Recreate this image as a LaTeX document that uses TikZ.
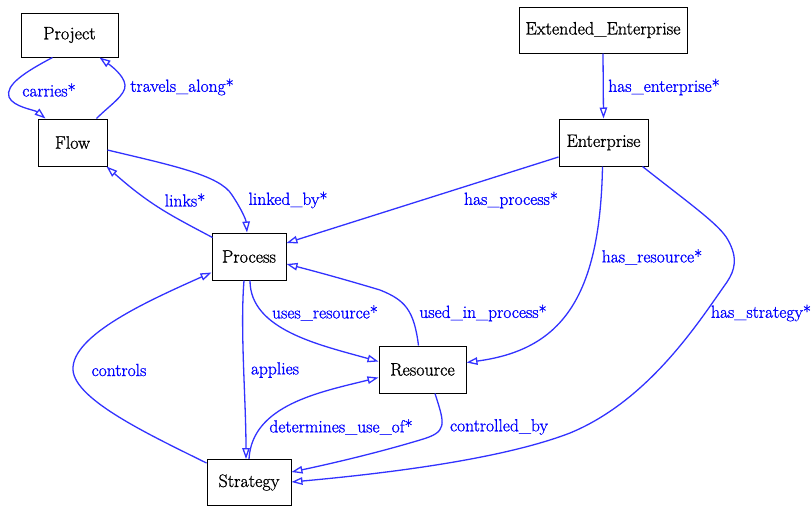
\documentclass[tikz,border=0pt]{standalone}
\usepackage{fontspec}
\setmainfont{Latin Modern Roman}[FakeBold=1]
\usetikzlibrary{arrows.meta,calc}
\definecolor{edgeblue}{RGB}{50,50,255}
\begin{document}
\begin{tikzpicture}[x=1pt,y=-1pt,
  box/.style={draw=black,line width=1pt,inner sep=0pt,font=\rmfamily\fontsize{18}{21}\selectfont},
  edge/.style={draw=edgeblue,line width=1.3pt,-{Triangle[open,length=11pt,width=7.5pt]}},
  lbl/.style={text=blue,inner sep=0pt,font=\rmfamily\fontsize{17.5}{20}\selectfont}]
\useasboundingbox (0,0) rectangle (811,507);
% nodes
\node[box,minimum width=97pt,minimum height=44pt] (proj) at (69.5,35) {Project};
\node[box,minimum width=69pt,minimum height=47pt] (flow) at (72.5,142.5) {Flow};
\node[box,minimum width=168pt,minimum height=46pt] (ext) at (603,30) {Extended\_Enterprise};
\node[box,minimum width=89pt,minimum height=47pt] (ent) at (603.5,142.5) {Enterprise};
\node[box,minimum width=74pt,minimum height=47pt] (proc) at (249,256.5) {Process};
\node[box,minimum width=87pt,minimum height=47pt] (res) at (422.5,369.5) {Resource};
\node[box,minimum width=84pt,minimum height=46pt] (strat) at (249,482.5) {Strategy};
% edges
\draw[edge] ($(proj.south)+(-17,0)$) .. controls (25,72) and (5,85) .. (9,97)
  .. controls (13,107) and (35,110) .. ($(flow.north)+(-27,0)$);
\draw[edge] ($(flow.north)+(24,0)$) .. controls (110,105) and (126,95) .. (125,85)
  .. controls (124,75) and (110,65) .. ($(proj.south)+(30,0)$);
\draw[edge] ($(proc.north west)+(1,5)$) .. controls (170,215) and (150,205) .. ($(flow.south east)+(-1,0)$);
\draw[edge] ($(flow.east)+(0,7.5)$) .. controls (170,165) and (220,175) .. (232,195)
  .. controls (242,210) and (246,220) .. ($(proc.north)+(-2,0)$);
\draw[edge] ($(ent.west)+(0,14.5)$) -- ($(proc.east)+(0,-13.5)$);
\draw[edge] (ext.south) -- (ent.north);
\draw[edge] ($(ent.south)+(-1,0)$) .. controls (600,300) and (560,350) .. ($(res.east)+(0,-7)$);
\draw[edge] ($(ent.south east)+(-6,0)$) .. controls (690,204) and (720,225) .. (728,240)
  .. controls (738,258) and (735,270) .. (727,282)
  .. controls (700,320) and (650,400) .. (570,433)
  .. controls (500,460) and (380,474) .. ($(strat.east)+(0,-0.5)$);
\draw[edge] ($(proc.south)+(1,0)$) .. controls (250,330) and (320,345) .. ($(res.west)+(0,-8)$);
\draw[edge] ($(res.north)+(-4,0)$) .. controls (414,310) and (405,300) .. (380,290)
  .. controls (340,278) and (310,270) .. ($(proc.east)+(0,7.5)$);
\draw[edge] ($(proc.south)+(-5,0)$) .. controls (240,330) and (246,400) .. ($(strat.north)+(-3,0)$);
\draw[edge] ($(strat.north west)+(0,4)$) .. controls (150,435) and (75,400) .. (73,370)
  .. controls (71,335) and (150,300) .. ($(proc.south west)+(0,-8)$);
\draw[edge] (strat.north) .. controls (252,405) and (320,392) .. ($(res.west)+(0,8)$);
\draw[edge] ($(res.south)+(12.5,0)$) .. controls (445,425) and (448,432) .. (420,440)
  .. controls (370,455) and (320,466) .. ($(strat.east)+(0,-10.5)$);
% labels
\node[lbl] (lcarries) at (49,90) {carries*};
\node[lbl] (ltravels) at (182,87) {travels\_along*};
\node[lbl] (llinks) at (185,200) {links*};
\node[lbl] (llinkedby) at (288,200) {linked\_by*};
\node[lbl] (lhasproc) at (511,200) {has\_process*};
\node[lbl] (lhasent) at (664,87) {has\_enterprise*};
\node[lbl] (lhasres) at (652,257) {has\_resource*};
\node[lbl] (lhasstrat) at (761,313) {has\_strategy*};
\node[lbl] (luses) at (325,313) {uses\_resource*};
\node[lbl] (lusedin) at (483,313) {used\_in\_process*};
\node[lbl] (lapplies) at (275,370) {applies};
\node[lbl] (lcontrols) at (119,370) {controls};
\node[lbl] (ldetermines) at (341,427) {determines\_use\_of*};
\node[lbl] (lcontrolled) at (499,427) {controlled\_by};
\end{tikzpicture}
\end{document}
